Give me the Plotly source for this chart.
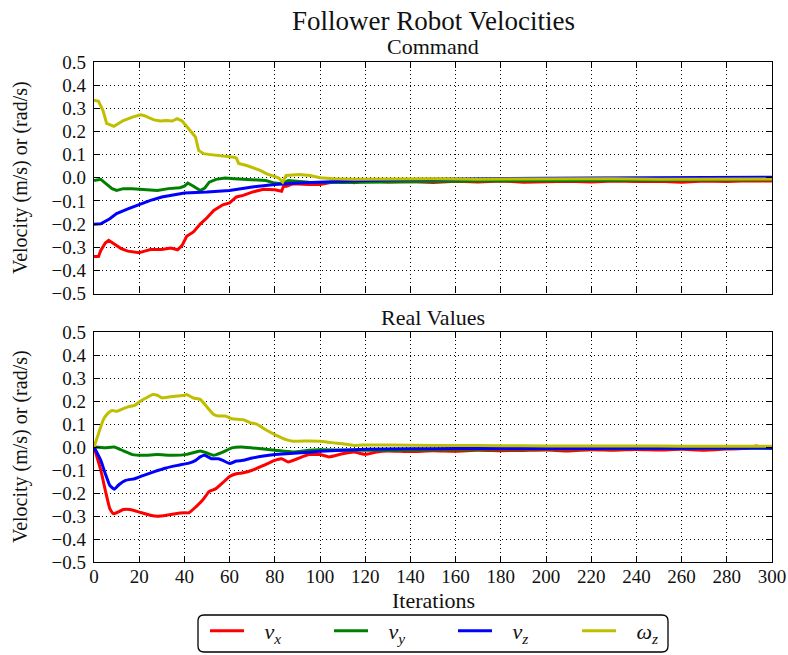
import plotly.graph_objects as go
from plotly.subplots import make_subplots

# ---- Command velocities -------------------------------------------------
cmd_vx_it = [0, 2, 3, 5, 6.5, 9, 12, 15, 20, 22, 25, 30, 34, 37, 39, 41, 44, 47, 50, 53, 57, 60,
             62.5, 63, 66, 70, 75, 80, 83, 84, 85, 88, 95, 100, 104, 110, 115, 120, 130, 140, 150,
             160, 170, 180, 190, 200, 210, 220, 230, 240, 250, 260, 270, 280, 290, 300]
cmd_vx = [-0.34, -0.34, -0.314, -0.282, -0.27, -0.285, -0.306, -0.317, -0.324, -0.318, -0.31,
          -0.31, -0.304, -0.311, -0.292, -0.253, -0.234, -0.2, -0.173, -0.141, -0.117, -0.109,
          -0.09, -0.083, -0.076, -0.062, -0.05, -0.052, -0.058, -0.033, -0.037, -0.026, -0.029,
          -0.029, -0.022, -0.012, -0.022, -0.012, -0.018, -0.016, -0.02, -0.015, -0.018, -0.014,
          -0.019, -0.016, -0.015, -0.018, -0.014, -0.016, -0.015, -0.019, -0.014, -0.016, -0.013,
          -0.014]

cmd_vy_it = [0, 3, 5, 8, 10, 13, 17, 22, 28, 33, 38, 40, 41.5, 44, 47, 49, 51, 54, 58, 62, 70,
             76, 80, 83, 86, 95, 110, 130, 150, 170, 190, 210, 230, 250, 270, 290, 300]
cmd_vy = [-0.012, -0.007, -0.023, -0.047, -0.055, -0.047, -0.047, -0.05, -0.055, -0.047, -0.043,
          -0.036, -0.023, -0.037, -0.055, -0.045, -0.019, -0.007, -0.001, -0.004, -0.007, -0.012,
          -0.023, -0.026, -0.012, -0.019, -0.02, -0.017, -0.015, -0.014, -0.013, -0.012, -0.011,
          -0.01, -0.009, -0.008, -0.008]

cmd_vz_it = [0, 3, 7, 10, 15, 20, 25, 30, 35, 40, 50, 60, 70, 80, 90, 100, 120, 140, 160, 180,
             200, 220, 240, 260, 280, 300]
cmd_vz = [-0.201, -0.199, -0.177, -0.155, -0.134, -0.115, -0.098, -0.083, -0.073, -0.066, -0.062,
          -0.055, -0.04, -0.029, -0.023, -0.019, -0.012, -0.008, -0.005, -0.003, -0.002, -0.001,
          0.0, 0.001, 0.001, 0.002]

cmd_wz_it = [0, 2, 4, 5.6, 8.8, 13, 17, 20.6, 22, 26.5, 29.4, 32, 34.6, 36.8, 39, 41, 43, 44.9,
             46.3, 48.5, 50.7, 55.9, 61.8, 63, 64, 67.6, 73.5, 76.5, 79.4, 81.6, 83.5, 85, 91,
             95.6, 100, 106, 115, 130, 150, 170, 190, 210, 230, 250, 270, 290, 300]
cmd_wz = [0.335, 0.33, 0.29, 0.235, 0.222, 0.247, 0.262, 0.272, 0.269, 0.25, 0.245, 0.247, 0.245,
          0.255, 0.245, 0.22, 0.2, 0.176, 0.118, 0.104, 0.101, 0.096, 0.089, 0.085, 0.062, 0.053,
          0.032, 0.017, 0.006, 0.0, -0.019, 0.01, 0.014, 0.01, 0.0, -0.004, -0.006, -0.005,
          -0.004, -0.006, -0.005, -0.005, -0.004, -0.006, -0.005, -0.004, -0.005]

# ---- Measured (real) velocities -----------------------------------------
real_vx_it = [0, 3, 5, 7, 8.5, 10, 13, 16, 20, 25, 28, 32, 36, 40, 42, 45, 48, 51, 54, 57, 60,
              63, 66, 70, 75, 80, 83, 86, 90, 95, 100, 104, 110, 115, 120, 125, 130, 140, 150,
              160, 170, 180, 190, 200, 210, 220, 230, 240, 250, 260, 270, 280, 290, 293, 296, 300]
real_vx = [0, -0.101, -0.188, -0.268, -0.29, -0.286, -0.272, -0.272, -0.283, -0.297, -0.301,
           -0.297, -0.29, -0.286, -0.286, -0.261, -0.232, -0.193, -0.181, -0.155, -0.128, -0.116,
           -0.112, -0.101, -0.08, -0.058, -0.051, -0.065, -0.051, -0.033, -0.033, -0.043, -0.029,
           -0.022, -0.032, -0.022, -0.017, -0.02, -0.016, -0.018, -0.014, -0.016, -0.015, -0.013,
           -0.017, -0.012, -0.014, -0.011, -0.013, -0.01, -0.014, -0.009, -0.004, 0.004, -0.002,
           -0.004]

real_vy_it = [0, 5, 9, 13, 17, 22, 28, 35, 41, 45, 47, 50, 53, 57, 61, 65, 70, 80, 88, 95, 100,
              120, 140, 160, 180, 200, 220, 240, 260, 280, 300]
real_vy = [0, -0.003, 0, -0.017, -0.033, -0.036, -0.033, -0.036, -0.032, -0.022, -0.017, -0.026,
           -0.036, -0.022, -0.004, 0, -0.004, -0.014, -0.022, -0.014, -0.012, -0.014, -0.013,
           -0.011, -0.01, -0.009, -0.008, -0.007, -0.006, -0.005, -0.005]

real_vz_it = [0, 3, 5, 7, 9, 11, 14, 18, 22, 27, 32, 37, 42, 45, 47, 49, 52, 55, 57, 60, 63, 66,
              70, 75, 80, 90, 100, 120, 140, 160, 180, 200, 220, 240, 260, 280, 300]
real_vz = [0, -0.058, -0.116, -0.167, -0.184, -0.164, -0.145, -0.138, -0.123, -0.106, -0.091,
           -0.08, -0.07, -0.058, -0.043, -0.036, -0.051, -0.051, -0.058, -0.072, -0.061, -0.058,
           -0.048, -0.039, -0.033, -0.026, -0.019, -0.01, -0.008, -0.007, -0.007, -0.006, -0.006,
           -0.005, -0.005, -0.004, -0.004]

real_wz_it = [0, 2, 4, 6, 8, 10, 13, 16, 18, 20, 23, 26, 28, 30, 33, 37, 40, 41, 44, 47, 50, 53,
              55, 58, 61, 66, 69, 72, 76, 80, 85, 88, 95, 100, 105, 110, 115, 120, 130, 150, 170,
              190, 210, 230, 250, 270, 290, 300]
real_wz = [0, 0.058, 0.116, 0.145, 0.159, 0.155, 0.167, 0.177, 0.181, 0.196, 0.213, 0.228, 0.225,
           0.214, 0.217, 0.222, 0.225, 0.228, 0.213, 0.207, 0.174, 0.141, 0.135, 0.135, 0.123,
           0.119, 0.106, 0.099, 0.075, 0.054, 0.032, 0.025, 0.026, 0.025, 0.019, 0.014, 0.007,
           0.009, 0.009, 0.007, 0.006, 0.005, 0.004, 0.004, 0.004, 0.003, 0.003, 0.003]

# legend labels (a small leading gap separates the text from the line sample)
GAP = "\u2002\u2009"
names = [GAP + "<i>ν</i><sub><i>x</i></sub>", GAP + "<i>ν</i><sub><i>y</i></sub>",
         GAP + "<i>ν</i><sub><i>z</i></sub>", GAP + "<i>ω</i><sub><i>z</i></sub>"]
colors = ["#ff0000", "#008000", "#0000ff", "#bfbf00"]

FONT = "Liberation Serif"
TXT = "#111"

fig = make_subplots(rows=2, cols=1, vertical_spacing=0.0)

cmd = [(cmd_vx_it, cmd_vx), (cmd_vy_it, cmd_vy), (cmd_vz_it, cmd_vz), (cmd_wz_it, cmd_wz)]
real = [(real_vx_it, real_vx), (real_vy_it, real_vy), (real_vz_it, real_vz), (real_wz_it, real_wz)]

for i, (xs, ys) in enumerate(cmd):
    fig.add_trace(go.Scatter(x=xs, y=ys, mode="lines", name=names[i], showlegend=False,
                             line=dict(color=colors[i], width=3)), row=1, col=1)
for i, (xs, ys) in enumerate(real):
    fig.add_trace(go.Scatter(x=xs, y=ys, mode="lines", name=names[i], showlegend=True,
                             line=dict(color=colors[i], width=3, shape="spline", smoothing=0.4)),
                  row=2, col=1)

axis_common = dict(
    showline=True, linecolor="black", linewidth=1.3, mirror="allticks",
    ticks="inside", ticklen=6, tickwidth=1.2, tickcolor="black",
    showgrid=True, gridcolor="black", gridwidth=1, griddash="1px,3px",
    zeroline=False, tickfont=dict(family=FONT, size=19, color=TXT),
)

fig.update_xaxes(range=[0, 300], dtick=20, tick0=0, ticklabelstandoff=-3, **axis_common)
fig.update_yaxes(range=[-0.5, 0.5], dtick=0.1, tick0=0, tickformat=".1f",
                 ticklabelstandoff=3, **axis_common)
fig.update_xaxes(showticklabels=False, row=1, col=1)

fig.update_layout(
    width=788, height=655,
    margin=dict(l=94, r=16, t=62, b=93, autoexpand=False),
    paper_bgcolor="white", plot_bgcolor="white",
    font=dict(family=FONT, color=TXT),
    yaxis=dict(domain=[0.537, 1.0]),
    yaxis2=dict(domain=[0.0, 0.46]),
    legend=dict(orientation="h", x=(205 - 94) / 678, xanchor="left",
                y=(562 - 610) / 500, yanchor="top",
                bgcolor="rgba(0,0,0,0)", borderwidth=0, itemwidth=34,
                entrywidth=75, entrywidthmode="pixels",
                font=dict(family=FONT, size=22, color=TXT)),
)

ann = dict(xref="paper", yref="paper", showarrow=False)
fig.add_annotation(x=0.5, y=1.083, text="Follower Robot Velocities", yanchor="middle",
                   font=dict(family=FONT, size=27, color=TXT), **ann)
fig.add_annotation(x=0.5, y=1.031, text="Command", yanchor="middle",
                   font=dict(family=FONT, size=22, color=TXT), **ann)
fig.add_annotation(x=0.5, y=0.489, text="Real Values", yanchor="middle",
                   font=dict(family=FONT, size=22, color=TXT), **ann)
fig.add_annotation(x=0.5, y=-0.076, text="Iterations", yanchor="middle",
                   font=dict(family=FONT, size=22, color=TXT), **ann)
for yc in (0.768, 0.23):
    fig.add_annotation(x=-0.109, y=yc, text="Velocity (m/s) or (rad/s)", textangle=-90,
                       xanchor="center", yanchor="middle",
                       font=dict(family=FONT, size=20, color=TXT), **ann)

# rounded frame around the legend
x0, x1 = (198 - 94) / 678, (668 - 94) / 678
y0, y1 = (562 - 652) / 500, (562 - 615) / 500
rx, ry = 6 / 678, 6 / 500
path = (f"M{x0 + rx},{y1} L{x1 - rx},{y1} Q{x1},{y1} {x1},{y1 - ry} "
        f"L{x1},{y0 + ry} Q{x1},{y0} {x1 - rx},{y0} L{x0 + rx},{y0} "
        f"Q{x0},{y0} {x0},{y0 + ry} L{x0},{y1 - ry} Q{x0},{y1} {x0 + rx},{y1} Z")
fig.add_shape(type="path", path=path, xref="paper", yref="paper",
              line=dict(color="black", width=1.3), fillcolor="rgba(0,0,0,0)")

fig.write_html("out.html")
